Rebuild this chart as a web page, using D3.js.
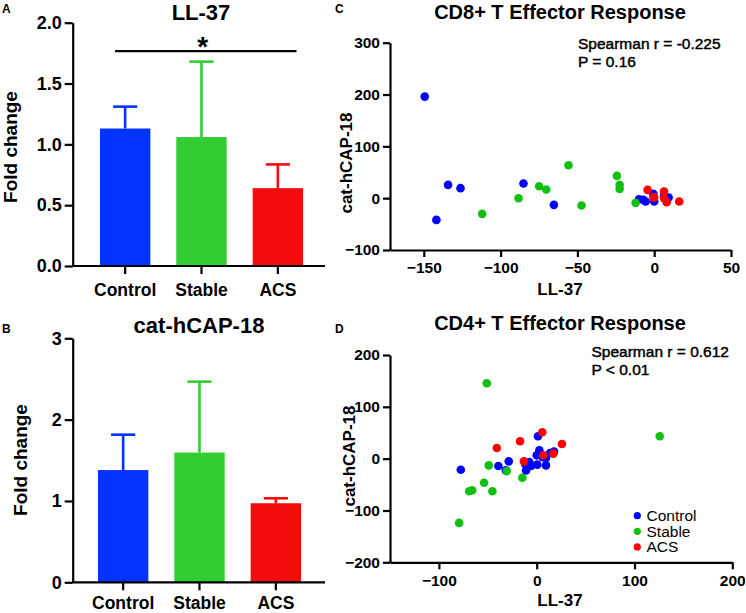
<!DOCTYPE html>
<html>
<head>
<meta charset="utf-8">
<script src="https://cdn.jsdelivr.net/npm/d3@7"></script>
<style>
  body { margin: 0; background: #fff; }
  svg { display: block; font-family: "Liberation Sans", Arial, sans-serif; }
</style>
</head>
<body>
<svg id="chart" width="746" height="613"></svg>
<script>
// ---------------- DATA ----------------
const groups = ["Control", "Stable", "ACS"];
const groupColors = ["#0433ff", "#33cc33", "#f20c0c"];
const dotColors = ["#0000ff", "#11c011", "#ff0000"];

// Panel A: LL-37 fold change (mean, upper error)
const ll37Mean = [1.13, 1.06, 0.64];
const ll37Err  = [1.31, 1.68, 0.835];
const ll37Ticks = [0, 0.5, 1.0, 1.5, 2.0];

// Panel B: cat-hCAP-18 fold change
const capMean = [1.38, 1.595, 0.972];
const capErr  = [1.815, 2.467, 1.033];
const capTicks = [0, 1, 2, 3];

// Panel C: CD8+ T effector response (LL-37 x, cat-hCAP-18 y)
const cd8ControlX = [-149.4, -141.8, -134.2, -126.1, -85.1, -65.3, -9.9, -7.1, -5.6, -0.6, 0, 6.4, 9.4];
const cd8ControlY = [196, -41.9, 25.7, 19.3, 28.2, -12.9, -2, -3, -6.5, 8.3, -6.5, 4.4, 1.2];
const cd8StableX = [-112, -88.3, -74.9, -70.3, -55.8, -47.3, -24.3, -22.5, -22.5, -12.1];
const cd8StableY = [-30.3, 0, 23, 16.7, 63.6, -14.2, 43, 25.7, 18, -9];
const cd8AcsX = [-4.3, 0, -0.5, 6.4, 6.4, 8.1, 16.3];
const cd8AcsY = [16, 2, 1, 12.7, 0, -7.7, -6.5];
const cd8XTicks = [-150, -100, -50, 0, 50];
const cd8YTicks = [-100, 0, 100, 200, 300];

// Panel D: CD4+ T effector response
const cd4ControlX = [-77.6, -39.2, -28.6, -31.6, 1.3, -10.9, -11.9, -7.5, -5.8, 0, 2.7, 0.6, 9.5, 9.5, 13.6, 17.7, 6];
const cd4ControlY = [-21.3, -14.3, -5.2, -22.7, 43.2, -22.7, -9.7, -6.5, -14.3, 6.4, 16.1, -11.6, -13, 1.2, 10.9, 13.6, 3];
const cd4StableX = [-51, -79.3, -69, -66, -53.8, -45.3, -49, -30.6, -14.7, 125.8];
const cd4StableY = [145.4, -124, -63, -61, -46.5, -62.8, -13, -24, -36.8, 43.2];
const cd4AcsX = [-40.8, -17, 5.7, 25.8, -13, 17, 6.8];
const cd4AcsY = [20.6, 33.5, 51, 28.3, -5.2, 9.7, 6.4];
const cd4XTicks = [-100, 0, 100, 200];
const cd4YTicks = [-200, -100, 0, 100, 200];

// ---------------- DRAW ----------------
const svg = d3.select("#chart");
const FONT_BOLD = "bold";

function styleAxis(g, fontSize) {
  g.selectAll("path").attr("stroke", "#000").attr("stroke-width", 2.2);
  g.selectAll("line").attr("stroke", "#000").attr("stroke-width", 2.2);
  g.selectAll("text").attr("fill", "#000").attr("font-size", fontSize)
    .attr("font-weight", FONT_BOLD).attr("font-family", '"Liberation Sans", Arial, sans-serif');
}

function panelLetter(txt, x, y) {
  svg.append("text").attr("x", x).attr("y", y).text(txt)
    .attr("font-size", 12).attr("font-weight", "bold");
}

function barPanel(opt) {
  const x = d3.scaleBand().domain(groups).range(opt.xRange).paddingInner(0.34).paddingOuter(0.34);
  const y = d3.scaleLinear().domain(opt.yDomain).range(opt.yRange);
  const g = svg.append("g");

  const data = groups.map((k, i) => ({ k, m: opt.mean[i], e: opt.err[i], c: groupColors[i] }));
  const capW = x.bandwidth() * 0.48;
  data.forEach(d => {
    const cx = x(d.k) + x.bandwidth() / 2;
    g.append("line").attr("x1", cx).attr("x2", cx).attr("y1", y(d.m)).attr("y2", y(d.e))
      .attr("stroke", d.c).attr("stroke-width", 2.6);
    g.append("line").attr("x1", cx - capW / 2).attr("x2", cx + capW / 2).attr("y1", y(d.e)).attr("y2", y(d.e))
      .attr("stroke", d.c).attr("stroke-width", 2.6);
  });
  g.selectAll("rect.bar").data(data).join("rect").attr("class", "bar")
    .attr("x", d => x(d.k)).attr("width", x.bandwidth())
    .attr("y", d => y(d.m)).attr("height", d => y(opt.yDomain[0]) - y(d.m))
    .attr("fill", d => d.c);

  const ya = g.append("g").attr("transform", `translate(${opt.xAxisStart},0)`)
    .call(d3.axisLeft(y).tickValues(opt.ticks).tickFormat(opt.fmt).tickSize(8).tickSizeOuter(0).tickPadding(3));
  styleAxis(ya, 18);
  const xa = g.append("g").attr("transform", `translate(0,${opt.yRange[0]})`)
    .call(d3.axisBottom(x).tickSize(8).tickSizeOuter(0).tickPadding(6));
  xa.select("path.domain").attr("d", `M${opt.xAxisStart},0H${opt.xAxisEnd}`);
  styleAxis(xa, 17.5);
  xa.selectAll("text").attr("dy", null).attr("y", opt.labelY - opt.yRange[0]);

  svg.append("text").attr("x", opt.titleX).attr("y", opt.titleY).attr("text-anchor", "middle")
    .attr("font-size", 22).attr("font-weight", "bold").text(opt.title);
  svg.append("text").attr("transform", `translate(${opt.ylabX},${opt.ylabY}) rotate(-90)`)
    .attr("text-anchor", "middle").attr("font-size", 19).attr("font-weight", "bold").text("Fold change");
  return { x, y, g };
}

// Panel A
const A = barPanel({
  xRange: [74, 329], yDomain: [0, 2], yRange: [266, 22.7], mean: ll37Mean, err: ll37Err,
  ticks: ll37Ticks, fmt: d3.format(".1f"), xAxisStart: 72.7, xAxisEnd: 325, labelY: 296,
  title: "LL-37", titleX: 201, titleY: 20, ylabX: 17, ylabY: 147
});
// significance line + star
{
  const x1 = A.x("Control") + A.x.bandwidth() * 0.3;
  const x2 = A.x("ACS") + A.x.bandwidth() * 0.87;
  const ly = A.y(1.767);
  svg.append("line").attr("x1", x1).attr("x2", x2).attr("y1", ly).attr("y2", ly)
    .attr("stroke", "#000").attr("stroke-width", 2.2);
  svg.append("text").attr("x", (x1 + x2) / 2 - 3).attr("y", ly + 5).attr("text-anchor", "middle")
    .attr("font-size", 28).attr("font-weight", "bold").text("*");
}
panelLetter("A", 2, 13);

// Panel B
barPanel({
  xRange: [72, 327], yDomain: [0, 3], yRange: [582.3, 338.3], mean: capMean, err: capErr,
  ticks: capTicks, fmt: d3.format("d"), xAxisStart: 72.7, xAxisEnd: 325, labelY: 609.5,
  title: "cat-hCAP-18", titleX: 199, titleY: 333, ylabX: 27, ylabY: 460
});
panelLetter("B", 2, 333);

// Scatter panels
function scatterPanel(opt) {
  const x = d3.scaleLinear().domain(opt.xDomain).range(opt.xRange);
  const y = d3.scaleLinear().domain(opt.yDomain).range(opt.yRange);
  const g = svg.append("g");
  const ya = g.append("g").attr("transform", `translate(${opt.xRange[0]},0)`)
    .call(d3.axisLeft(y).tickValues(opt.yTicks).tickSize(7).tickSizeOuter(0).tickPadding(3));
  styleAxis(ya, 15.5);
  const xa = g.append("g").attr("transform", `translate(0,${opt.yRange[0]})`)
    .call(d3.axisBottom(x).tickValues(opt.xTicks).tickSize(7).tickSizeOuter(0).tickPadding(5));
  styleAxis(xa, 15.5);
  xa.selectAll("text").attr("dy", null).attr("y", opt.tickLabelY - opt.yRange[0]);

  opt.series.forEach((s, i) => {
    const pts = s.xs.map((v, j) => [v, s.ys[j]]);
    g.append("g").selectAll("circle").data(pts).join("circle")
      .attr("cx", d => x(d[0])).attr("cy", d => y(d[1])).attr("r", 4.3)
      .attr("fill", dotColors[i]);
  });

  svg.append("text").attr("x", 560).attr("y", opt.titleY).attr("text-anchor", "middle")
    .attr("font-size", 20).attr("font-weight", "bold").text(opt.title);
  svg.append("text").attr("x", 560).attr("y", opt.xlabY).attr("text-anchor", "middle")
    .attr("font-size", 17).attr("font-weight", "bold").text("LL-37");
  svg.append("text").attr("transform", `translate(${opt.ylabX},${opt.ylabY}) rotate(-90)`)
    .attr("text-anchor", "middle").attr("font-size", 17).attr("font-weight", "bold").text("cat-hCAP-18");
  opt.stats.forEach((t, i) => {
    svg.append("text").attr("x", opt.statX).attr("y", opt.statY + i * 18.4).text(t)
      .attr("font-size", 15.5).attr("stroke", "#000").attr("stroke-width", 0.45).attr("fill", "#000");
  });
  return { x, y };
}

scatterPanel({
  xDomain: [-172, 50], xRange: [390, 731], yDomain: [-100, 300], yRange: [250, 42.7],
  xTicks: cd8XTicks, yTicks: cd8YTicks, tickLabelY: 273,
  series: [{ xs: cd8ControlX, ys: cd8ControlY }, { xs: cd8StableX, ys: cd8StableY }, { xs: cd8AcsX, ys: cd8AcsY }],
  title: "CD8+ T Effector Response", titleY: 18.5, xlabY: 295, ylabX: 352, ylabY: 163,
  stats: ["Spearman r = -0.225", "P = 0.16"], statX: 578, statY: 48.5
});
panelLetter("C", 335, 13);

scatterPanel({
  xDomain: [-150, 200], xRange: [390, 732.3], yDomain: [-200, 200], yRange: [562.3, 355],
  xTicks: cd4XTicks, yTicks: cd4YTicks, tickLabelY: 586,
  series: [{ xs: cd4ControlX, ys: cd4ControlY }, { xs: cd4StableX, ys: cd4StableY }, { xs: cd4AcsX, ys: cd4AcsY }],
  title: "CD4+ T Effector Response", titleY: 330, xlabY: 606, ylabX: 355, ylabY: 456,
  stats: ["Spearman r = 0.612", "P < 0.01"], statX: 591.5, statY: 356.5
});
panelLetter("D", 335, 333);

// Legend in panel D
const legend = svg.append("g");
groups.forEach((gname, i) => {
  const ly = 515.7 + i * 15.6;
  legend.append("circle").attr("cx", 637.3).attr("cy", ly).attr("r", 3.6).attr("fill", dotColors[i]);
  legend.append("text").attr("x", 646.5).attr("y", ly + 5.4).attr("font-size", 15.5).text(gname);
});
</script>
</body>
</html>
